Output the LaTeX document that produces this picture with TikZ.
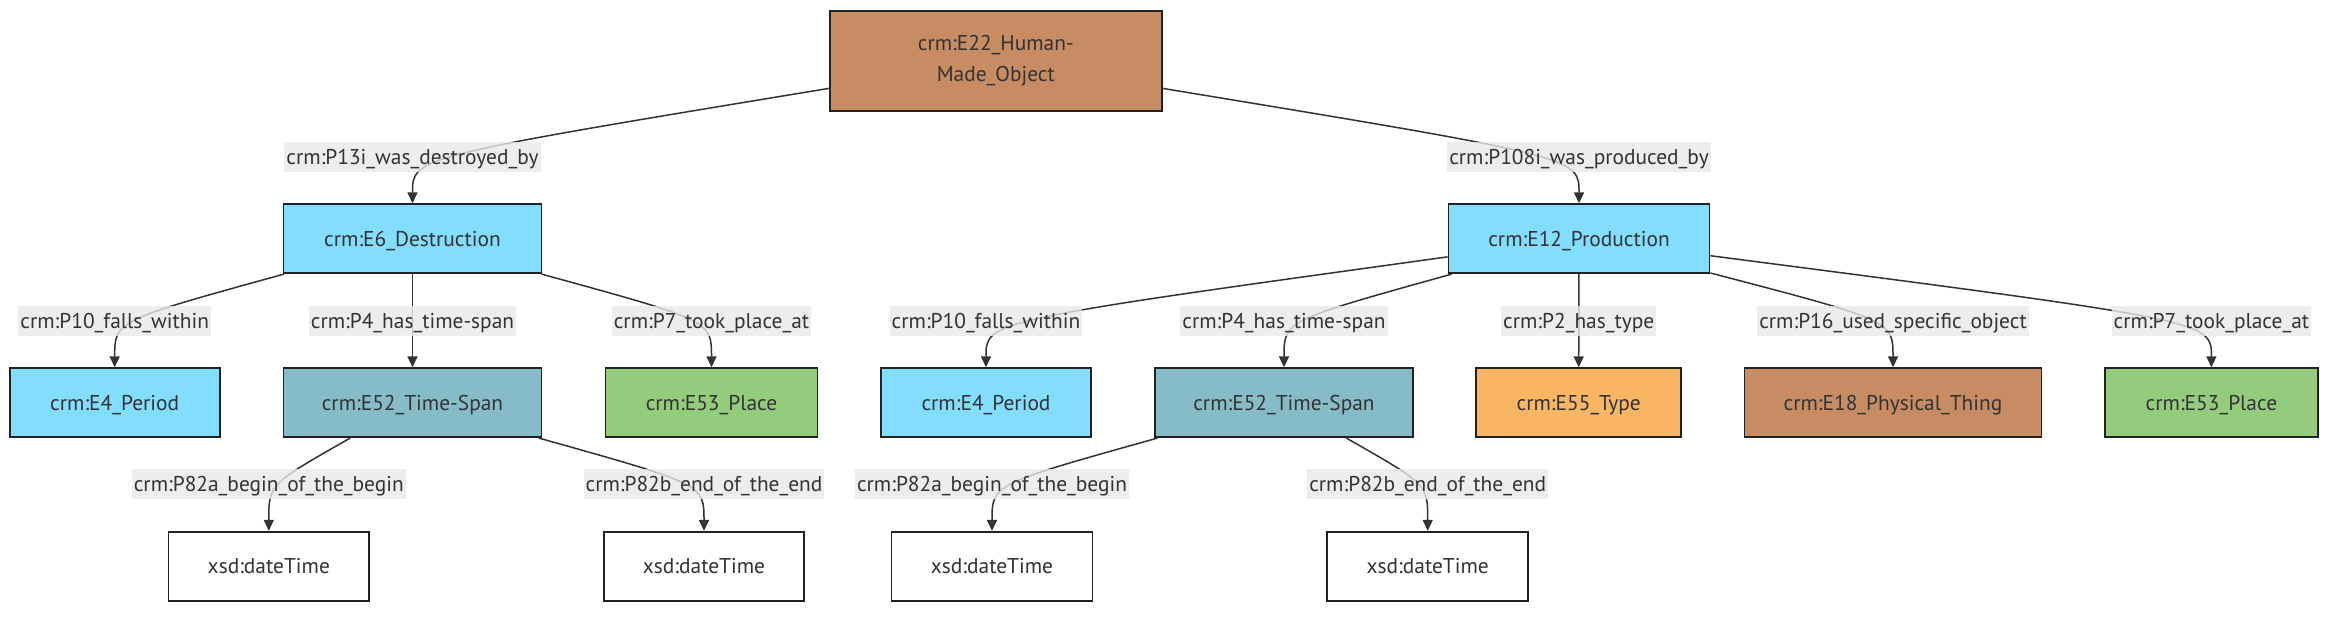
\documentclass[tikz,border=0pt]{standalone}
\usepackage{fontspec}
\setmainfont{PT Sans}
\usetikzlibrary{arrows.meta}
\pgfdeclarelayer{bg}
\pgfsetlayers{bg,main}
\definecolor{txt}{HTML}{333333}
\definecolor{edgecol}{HTML}{333333}
\definecolor{boxline}{HTML}{222222}
\definecolor{lblbg}{HTML}{E8E8E8}
\definecolor{cbrown}{HTML}{C78C64}
\definecolor{ccyan}{HTML}{82DDFF}
\definecolor{cspan}{HTML}{86BCC8}
\definecolor{cplace}{HTML}{94CC7D}
\definecolor{ctype}{HTML}{FAB663}
\begin{document}
\begin{tikzpicture}[x=0.5pt,y=-0.5pt,
  box/.style={draw=boxline, line width=0.9pt, minimum height=34.5pt, inner sep=0pt,
    text=txt, font=\fontsize{10.7}{15}\selectfont, text height=7.5pt, text depth=0pt},
  lbl/.style={fill=lblbg, fill opacity=0.8, text opacity=1, text=txt, inner xsep=1pt, inner ysep=0pt,
    minimum height=15pt, font=\fontsize{10.7}{15}\selectfont, text height=7.5pt, text depth=0pt},
  edge/.style={draw=edgecol, line width=0.75pt, -{Triangle[length=5.5pt,width=5pt]}}]
\useasboundingbox (0,0) rectangle (2352,618);
% boxes
\node[box, fill=cbrown, minimum width=166pt, minimum height=50pt, align=center, text height=, text depth=, font=\fontsize{10.7}{15.5}\selectfont] (e22) at (995.8,61) {crm:E22\_Human-\\Made\_Object};
\node[box, fill=ccyan, minimum width=129pt] (e6) at (412.5,238.7) {crm:E6\_Destruction};
\node[box, fill=ccyan, minimum width=130.5pt] (e12) at (1579,238.7) {crm:E12\_Production};
\node[box, fill=ccyan, minimum width=105pt] (e4a) at (114.7,402.7) {crm:E4\_Period};
\node[box, fill=cspan, minimum width=129pt] (e52a) at (412.5,402.7) {crm:E52\_Time-Span};
\node[box, fill=cplace, minimum width=106pt] (e53a) at (711.5,402.7) {crm:E53\_Place};
\node[box, fill=ccyan, minimum width=105pt] (e4b) at (986,402.7) {crm:E4\_Period};
\node[box, fill=cspan, minimum width=129pt] (e52b) at (1284,402.7) {crm:E52\_Time-Span};
\node[box, fill=ctype, minimum width=102.5pt] (e55) at (1578.7,402.7) {crm:E55\_Type};
\node[box, fill=cbrown, minimum width=148.5pt] (e18) at (1893,402.7) {crm:E18\_Physical\_Thing};
\node[box, fill=cplace, minimum width=106.5pt] (e53b) at (2211.4,402.7) {crm:E53\_Place};
\node[box, fill=white, minimum width=100.3pt] (xa1) at (268.8,566.2) {xsd:dateTime};
\node[box, fill=white, minimum width=100.3pt] (xa2) at (704,566.2) {xsd:dateTime};
\node[box, fill=white, minimum width=100.5pt] (xb1) at (992,566.2) {xsd:dateTime};
\node[box, fill=white, minimum width=100.5pt] (xb2) at (1427.7,566.2) {xsd:dateTime};
% labels
\node[lbl] (l1) at (412.5,157) {crm:P13i\_was\_destroyed\_by};
\node[lbl] (l2) at (1579,157) {crm:P108i\_was\_produced\_by};
\node[lbl] (l3) at (114.7,320.7) {crm:P10\_falls\_within};
\node[lbl] (l4) at (412.5,320.7) {crm:P4\_has\_time-span};
\node[lbl] (l5) at (711.5,320.7) {crm:P7\_took\_place\_at};
\node[lbl] (l6) at (986,320.7) {crm:P10\_falls\_within};
\node[lbl] (l7) at (1284,320.7) {crm:P4\_has\_time-span};
\node[lbl] (l8) at (1578.7,320.7) {crm:P2\_has\_type};
\node[lbl] (l9) at (1893,320.7) {crm:P16\_used\_specific\_object};
\node[lbl] (l10) at (2211.4,320.7) {crm:P7\_took\_place\_at};
\node[lbl] (l11) at (268.8,484.3) {crm:P82a\_begin\_of\_the\_begin};
\node[lbl] (l12) at (704,484.3) {crm:P82b\_end\_of\_the\_end};
\node[lbl] (l13) at (992,484.3) {crm:P82a\_begin\_of\_the\_begin};
\node[lbl] (l14) at (1427.7,484.3) {crm:P82b\_end\_of\_the\_end};
% edges
\begin{pgfonlayer}{bg}
\draw[edge] (e22) .. controls (l1.center) .. (e6.north);
\draw[edge] (e22) .. controls (l2.center) .. (e12.north);
\draw[edge] (e6) .. controls (l3.center) .. (e4a.north);
\draw[edge] (e6) -- (e52a.north);
\draw[edge] (e6) .. controls (l5.center) .. (e53a.north);
\draw[edge] (e12) .. controls (l6.center) .. (e4b.north);
\draw[edge] (e12) .. controls (l7.center) .. (e52b.north);
\draw[edge] (e12) -- (e55.north);
\draw[edge] (e12) .. controls (l9.center) .. (e18.north);
\draw[edge] (e12) .. controls (l10.center) .. (e53b.north);
\draw[edge] (e52a) .. controls (l11.center) .. (xa1.north);
\draw[edge] (e52a) .. controls (l12.center) .. (xa2.north);
\draw[edge] (e52b) .. controls (l13.center) .. (xb1.north);
\draw[edge] (e52b) .. controls (l14.center) .. (xb2.north);
\end{pgfonlayer}
\end{tikzpicture}
\end{document}
